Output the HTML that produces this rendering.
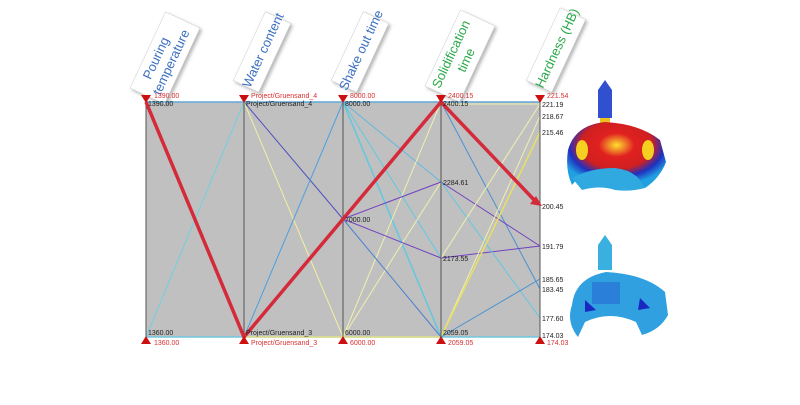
<!DOCTYPE html>
<html><head><style>
body{margin:0;background:#fff;width:800px;height:400px;overflow:hidden;font-family:"Liberation Sans",sans-serif}
</style></head><body>
<svg width="800" height="400" viewBox="0 0 800 400" xmlns="http://www.w3.org/2000/svg" font-family="Liberation Sans, sans-serif">
<defs>
<filter id="sh" x="-20%" y="-20%" width="150%" height="150%"><feDropShadow dx="2" dy="2" stdDeviation="1.5" flood-color="#888" flood-opacity="0.6"/></filter>
<radialGradient id="hot" cx="50%" cy="35%" r="60%"><stop offset="0" stop-color="#ffe030"/><stop offset="0.3" stop-color="#e02020"/><stop offset="0.6" stop-color="#d02020"/><stop offset="0.8" stop-color="#2030c0"/><stop offset="1" stop-color="#20a0e0"/></radialGradient>
</defs>
<rect x="146" y="102" width="394" height="235" fill="#c0c0c0"/>
<g filter="url(#sh)" fill="#fff" stroke="#ccc" stroke-width="0.5">
<g transform="translate(165,58) rotate(-65)"><rect x="-42" y="-19" width="84" height="38"/></g>
<g transform="translate(262,52) rotate(-65)"><rect x="-38" y="-14" width="76" height="28"/></g>
<g transform="translate(360,52) rotate(-65)"><rect x="-38" y="-14" width="76" height="28"/></g>
<g transform="translate(460,56) rotate(-65)"><rect x="-42" y="-19" width="84" height="38"/></g>
<g transform="translate(556,50) rotate(-65)"><rect x="-40" y="-14" width="80" height="28"/></g>
</g>
<g font-size="13">
<text transform="translate(160,60) rotate(-65)" text-anchor="middle" fill="#3a6fc0">Pouring</text>
<text transform="translate(175,64) rotate(-65)" text-anchor="middle" fill="#3a6fc0">temperature</text>
<text transform="translate(267,52) rotate(-65)" text-anchor="middle" fill="#3a6fc0">Water content</text>
<text transform="translate(365,52) rotate(-65)" text-anchor="middle" fill="#3a6fc0">Shake out time</text>
<text transform="translate(455,56) rotate(-65)" text-anchor="middle" fill="#2aa84a">Solidification</text>
<text transform="translate(470,62) rotate(-65)" text-anchor="middle" fill="#2aa84a">time</text>
<text transform="translate(561,50) rotate(-65)" text-anchor="middle" fill="#2aa84a">Hardness (HB)</text>
</g>
<line x1="146" y1="102" x2="540" y2="102" stroke="#60a8d8" stroke-width="1.5"/>
<line x1="146" y1="337" x2="540" y2="337" stroke="#70c8e0" stroke-width="1.5"/>
<line x1="244" y1="337" x2="441" y2="337" stroke="#e8e080" stroke-width="1.5"/>
<g fill="none" stroke-width="1">
<line x1="146" y1="337" x2="244" y2="102" stroke="#70d0e0"/>
<line x1="244" y1="102" x2="343" y2="219" stroke="#5050c0"/>
<line x1="244" y1="102" x2="343" y2="337" stroke="#f0f0a0"/>
<line x1="244" y1="337" x2="343" y2="102" stroke="#4aa0e0"/>
<line x1="343" y1="102" x2="441" y2="258" stroke="#60c8e0"/>
<line x1="343" y1="102" x2="441" y2="337" stroke="#60c8e0" stroke-width="1.5"/>
<line x1="343" y1="102" x2="441" y2="182" stroke="#60b8e0"/>
<line x1="343" y1="337" x2="441" y2="102" stroke="#f0f0b0"/>
<line x1="343" y1="337" x2="441" y2="182" stroke="#f0f0b0"/>
<line x1="343" y1="219" x2="441" y2="182" stroke="#7040c0"/>
<line x1="343" y1="219" x2="441" y2="258" stroke="#7040c0"/>
<line x1="343" y1="219" x2="441" y2="337" stroke="#4a80d0"/>
<line x1="441" y1="102" x2="540" y2="289" stroke="#4a90d0"/>
<line x1="441" y1="182" x2="540" y2="246" stroke="#7040c0"/>
<line x1="441" y1="258" x2="540" y2="246" stroke="#7040c0"/>
<line x1="441" y1="182" x2="540" y2="318" stroke="#60c8e0"/>
<line x1="441" y1="258" x2="540" y2="104" stroke="#f0f0b0"/>
<line x1="441" y1="337" x2="540" y2="116" stroke="#f0f0b0"/>
<line x1="441" y1="337" x2="540" y2="132" stroke="#e8e060" stroke-width="1.5"/>
<line x1="441" y1="337" x2="540" y2="279" stroke="#4a90d0"/>
<line x1="441" y1="104" x2="540" y2="104" stroke="#f0f0b0"/>
</g>
<g stroke="#555" stroke-width="1">
<line x1="146" y1="102" x2="146" y2="337"/><line x1="244" y1="102" x2="244" y2="337"/>
<line x1="343" y1="102" x2="343" y2="337"/><line x1="441" y1="102" x2="441" y2="337"/>
<line x1="540" y1="102" x2="540" y2="337"/>
</g>
<polyline points="146,102 244,337 343,219 441,102 538,204" fill="none" stroke="#d42a3a" stroke-width="3.5"/>
<polygon points="542,206 530,204 536,196" fill="#d42a3a"/>
<g fill="#cc1010">
<polygon points="141,95 151,95 146,103"/><polygon points="239,95 249,95 244,103"/><polygon points="338,95 348,95 343,103"/><polygon points="436,95 446,95 441,103"/><polygon points="535,95 545,95 540,103"/>
<polygon points="141,344 151,344 146,336"/><polygon points="239,344 249,344 244,336"/><polygon points="338,344 348,344 343,336"/><polygon points="436,344 446,344 441,336"/><polygon points="535,344 545,344 540,336"/>
</g>
<g font-size="7" fill="#d83030">
<text x="154" y="98">1390.00</text><text x="251" y="98">Project/Gruensand_4</text><text x="350" y="98">8000.00</text><text x="448" y="98">2400.15</text><text x="547" y="98">221.54</text>
<text x="154" y="345">1360.00</text><text x="251" y="345">Project/Gruensand_3</text><text x="350" y="345">6000.00</text><text x="448" y="345">2059.05</text><text x="547" y="345">174.03</text>
</g>
<g font-size="7" fill="#222">
<text x="148" y="106">1390.00</text><text x="246" y="106">Project/Gruensand_4</text><text x="345" y="106">8000.00</text><text x="443" y="106">2400.15</text>
<text x="148" y="335">1360.00</text><text x="246" y="335">Project/Gruensand_3</text><text x="345" y="335">6000.00</text><text x="443" y="335">2059.05</text>
<text x="345" y="222">7000.00</text><text x="443" y="185">2284.61</text><text x="443" y="261">2173.55</text>
<text x="542" y="107">221.19</text><text x="542" y="119">218.67</text><text x="542" y="135">215.46</text><text x="542" y="209">200.45</text><text x="542" y="249">191.79</text><text x="542" y="282">185.65</text><text x="542" y="292">183.45</text><text x="542" y="321">177.60</text><text x="542" y="338">174.03</text>
</g>
<!-- top casting -->
<g>
<path d="M598,90 L605,80 L612,90 L612,118 L598,118 Z" fill="#3050d0"/>
<rect x="600" y="118" width="10" height="6" fill="#f0c020"/>
<path d="M568,150 Q575,125 605,122 Q640,124 660,140 L666,162 Q660,178 645,188 L638,180 Q630,172 615,170 Q590,170 578,178 L572,185 Q565,170 568,150 Z" fill="url(#hot)"/>
<path d="M572,178 Q590,168 615,168 Q632,170 640,180 L645,188 Q630,192 615,190 Q600,185 582,190 Z" fill="#30a8e0"/>
<ellipse cx="582" cy="150" rx="6" ry="10" fill="#f5d020"/>
<ellipse cx="648" cy="150" rx="6" ry="10" fill="#f5d020"/>
</g>
<!-- bottom casting -->
<g>
<path d="M598,245 L605,235 L612,245 L612,270 L598,270 Z" fill="#3ab0e0"/>
<path d="M572,305 Q575,278 606,272 Q645,274 665,292 L668,315 Q660,330 642,335 L636,322 Q610,310 585,322 L578,337 Q566,322 572,305 Z" fill="#30a0e0"/>
<rect x="592" y="282" width="28" height="22" fill="#2a80d8"/>
<path d="M585,300 L596,310 L585,312 Z M640,298 L650,308 L638,310 Z" fill="#1828c0"/>
</g>
</svg>
</body></html>
